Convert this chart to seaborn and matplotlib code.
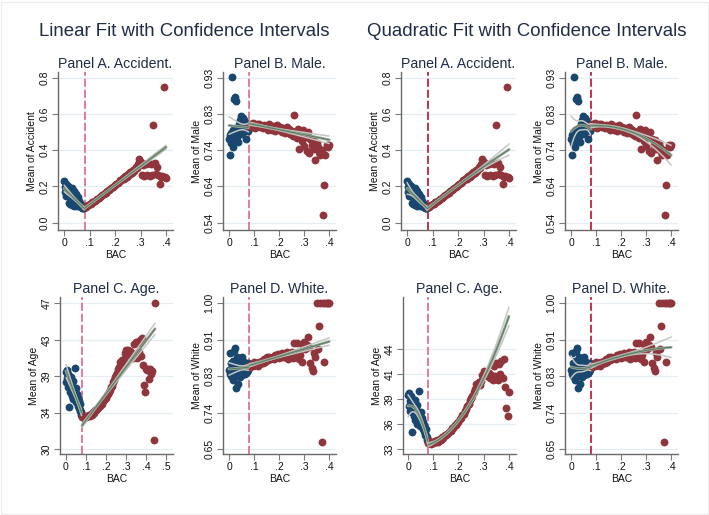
import numpy as np
import matplotlib
matplotlib.use("Agg")
import matplotlib.pyplot as plt
import seaborn as sns
from matplotlib.patches import Rectangle

sns.set_theme(style="ticks")
plt.rcParams['font.family'] = ['Liberation Sans', 'DejaVu Sans']

# binned BAC values (below / above the .08 cutoff)
bac_blue = [0.000, 0.002, 0.004, 0.006, 0.008, 0.010, 0.012, 0.014, 0.016, 0.018,
            0.020, 0.022, 0.024, 0.026, 0.028, 0.030, 0.032, 0.034, 0.036, 0.038,
            0.040, 0.042, 0.044, 0.046, 0.048, 0.050, 0.052, 0.054, 0.056, 0.058,
            0.060, 0.062, 0.064, 0.066, 0.068, 0.070, 0.072, 0.074, 0.076, 0.078]
bac_red = [0.080, 0.085, 0.090, 0.095, 0.100, 0.105, 0.110, 0.115, 0.120, 0.125,
           0.130, 0.135, 0.140, 0.145, 0.150, 0.155, 0.160, 0.165, 0.170, 0.175,
           0.180, 0.185, 0.190, 0.195, 0.200, 0.205, 0.210, 0.215, 0.220, 0.225,
           0.230, 0.235, 0.240, 0.245, 0.250, 0.255, 0.260, 0.265, 0.270, 0.275,
           0.280, 0.285, 0.290, 0.295, 0.300, 0.305, 0.310, 0.315, 0.320, 0.325,
           0.330, 0.335, 0.340, 0.345, 0.350, 0.355, 0.360, 0.365, 0.370, 0.375,
           0.380, 0.385, 0.390, 0.395, 0.400]

# approximate number of stops in each bin (used as fit weights)
n_blue = [20, 22, 24, 26, 28, 30, 33, 36, 39, 42,
          46, 50, 54, 58, 63, 68, 74, 80, 87, 94,
          102, 110, 119, 128, 138, 149, 160, 172, 185, 199,
          214, 230, 247, 265, 284, 304, 325, 347, 370, 395]
n_red = [520, 540, 560, 580, 600, 610, 620, 630, 640, 650,
         660, 665, 670, 670, 665, 660, 650, 640, 625, 610,
         590, 570, 545, 520, 495, 465, 435, 405, 375, 345,
         315, 285, 255, 230, 205, 180, 160, 140, 120, 105,
         90, 78, 66, 56, 48, 40, 34, 28, 24, 20,
         17, 14, 12, 10, 8, 7, 6, 5, 4, 3,
         3, 2, 2, 2, 1]

acc_blue = [0.230, 0.170, 0.195, 0.150, 0.215, 0.185, 0.175, 0.160, 0.200, 0.110,
            0.150, 0.185, 0.105, 0.165, 0.135, 0.190, 0.100, 0.155, 0.120, 0.175,
            0.095, 0.145, 0.110, 0.160, 0.100, 0.130, 0.095, 0.140, 0.110, 0.120,
            0.090, 0.110, 0.095, 0.100, 0.085, 0.092, 0.082, 0.086, 0.080, 0.083]
acc_red = [0.086, 0.088, 0.093, 0.097, 0.101, 0.105, 0.112, 0.115, 0.121, 0.126,
           0.130, 0.136, 0.141, 0.146, 0.152, 0.157, 0.163, 0.166, 0.174, 0.178,
           0.186, 0.191, 0.196, 0.202, 0.207, 0.212, 0.220, 0.225, 0.238, 0.234,
           0.245, 0.242, 0.256, 0.250, 0.268, 0.262, 0.280, 0.276, 0.290, 0.283,
           0.310, 0.300, 0.325, 0.350, 0.335, 0.262, 0.318, 0.258, 0.322, 0.265,
           0.330, 0.255, 0.325, 0.262, 0.540, 0.330, 0.268, 0.310, 0.262, 0.215,
           0.250, 0.255, 0.750, 0.252, 0.245]

male_blue = [0.765, 0.722, 0.775, 0.755, 0.780, 0.931, 0.770, 0.744, 0.790, 0.765,
             0.872, 0.780, 0.878, 0.770, 0.868, 0.790, 0.770, 0.790, 0.756, 0.800,
             0.805, 0.815, 0.785, 0.826, 0.800, 0.812, 0.778, 0.822, 0.805, 0.790,
             0.815, 0.785, 0.800, 0.765, 0.808, 0.790, 0.802, 0.785, 0.800, 0.795]
male_red = [0.800, 0.805, 0.798, 0.808, 0.802, 0.795, 0.804, 0.799, 0.806, 0.797,
            0.801, 0.794, 0.803, 0.796, 0.800, 0.788, 0.804, 0.795, 0.790, 0.801,
            0.797, 0.785, 0.803, 0.793, 0.788, 0.798, 0.783, 0.795, 0.790, 0.780,
            0.797, 0.786, 0.792, 0.777, 0.785, 0.772, 0.830, 0.775, 0.768, 0.792,
            0.737, 0.778, 0.760, 0.790, 0.745, 0.770, 0.732, 0.783, 0.728, 0.765,
            0.748, 0.762, 0.738, 0.707, 0.753, 0.744, 0.730, 0.722, 0.736, 0.561,
            0.641, 0.722, 0.749, 0.742, 0.748]

age_blue = [39.0, 37.8, 39.2, 38.3, 37.2, 38.8, 38.0, 34.9, 38.5, 37.0,
            38.1, 36.6, 37.6, 38.4, 36.2, 36.9, 37.4, 35.8, 37.9, 36.4,
            37.0, 36.0, 39.4, 36.6, 35.5, 36.2, 37.1, 35.7, 36.4, 35.2,
            36.0, 35.0, 35.6, 34.8, 34.6, 35.2, 34.4, 34.0, 34.3, 33.8]
age_red = [33.7, 33.9, 33.6, 33.8, 33.7, 33.9, 33.8, 34.0, 33.8, 34.1,
           34.0, 34.3, 34.2, 34.5, 34.5, 34.7, 34.8, 35.0, 35.0, 35.3,
           35.3, 35.6, 35.7, 35.9, 36.0, 36.3, 36.4, 36.7, 36.9, 37.2,
           37.4, 37.8, 38.0, 38.4, 38.6, 38.9, 39.3, 39.6, 40.2, 40.0,
           40.4, 40.1, 40.5, 41.2, 41.6, 41.3, 41.5, 41.0, 41.4, 40.8,
           41.2, 40.6, 42.2, 41.0, 42.5, 40.6, 42.4, 41.3, 42.7, 40.8,
           42.9, 39.8, 37.5, 36.6, 39.3]
# age bins beyond .40 (only in the linear panel)
age_extra_bac = [0.405, 0.410, 0.415, 0.420, 0.425, 0.430, 0.440, 0.445]
age_extra = [39.2, 39.3, 38.2, 39.3, 38.8, 39.1, 31.0, 47.0]
n_extra = [1, 1, 1, 1, 1, 1, 1, 1]

white_blue = [0.840, 0.880, 0.830, 0.856, 0.825, 0.848, 0.835, 0.816, 0.862, 0.830,
              0.885, 0.842, 0.892, 0.826, 0.796, 0.870, 0.838, 0.806, 0.860, 0.834,
              0.850, 0.822, 0.866, 0.838, 0.845, 0.872, 0.828, 0.852, 0.836, 0.858,
              0.842, 0.830, 0.855, 0.838, 0.848, 0.835, 0.852, 0.840, 0.856, 0.846]
white_red = [0.850, 0.846, 0.855, 0.849, 0.858, 0.852, 0.856, 0.850, 0.860, 0.855,
             0.862, 0.857, 0.865, 0.859, 0.870, 0.864, 0.872, 0.866, 0.868, 0.872,
             0.866, 0.876, 0.870, 0.878, 0.868, 0.875, 0.880, 0.870, 0.878, 0.872,
             0.882, 0.866, 0.880, 0.874, 0.884, 0.868, 0.904, 0.872, 0.904, 0.880,
             0.866, 0.875, 0.860, 0.898, 0.908, 0.890, 0.900, 0.920, 0.894, 0.856,
             0.845, 0.838, 0.880, 0.870, 1.000, 0.890, 0.945, 1.000, 0.668, 1.000,
             0.860, 1.000, 1.000, 1.000, 1.000]

# axis labels
acc_ticks = [0.0, 0.2, 0.4, 0.6, 0.8]
acc_labels = ["0.0", "0.2", "0.4", "0.6", "0.8"]
male_ticks = [0.54, 0.6375, 0.735, 0.8325, 0.93]
male_labels = ["0.54", "0.64", "0.74", "0.83", "0.93"]
white_ticks = [0.65, 0.7375, 0.825, 0.9125, 1.00]
white_labels = ["0.65", "0.74", "0.83", "0.91", "1.00"]
age_ticks_lin = [30, 34.25, 38.5, 42.75, 47]
age_labels_lin = ["30", "34", "39", "43", "47"]
age_ticks_quad = [33, 35.75, 38.5, 41.25, 44]
age_labels_quad = ["33", "36", "39", "41", "44"]
bac_ticks4 = [0, 0.1, 0.2, 0.3, 0.4]
bac_labels4 = ["0", ".1", ".2", ".3", ".4"]
bac_ticks5 = [0, 0.1, 0.2, 0.3, 0.4, 0.5]
bac_labels5 = ["0", ".1", ".2", ".3", ".4", ".5"]

BLUE = "#1a476f"
RED = "#90353b"
PINK = "#e2728f"
CRIMSON = "#bb2444"
TXT = "#1f2b47"
W, H = 709, 515


def fit_ci(x, y, w, order, n=120):
    # weighted polynomial fit with 95% band for the mean
    x = np.asarray(x, float)
    y = np.asarray(y, float)
    w = np.asarray(w, float)
    w = w / w.mean()
    X = np.vander(x, order + 1)
    XtW = X.T * w
    xtx_inv = np.linalg.inv(XtW @ X)
    beta = xtx_inv @ (XtW @ y)
    resid = y - X @ beta
    s2 = (w * resid ** 2).sum() / (len(x) - order - 1)
    cov = s2 * xtx_inv
    g = np.linspace(x.min(), x.max(), n)
    G = np.vander(g, order + 1)
    pred = G @ beta
    se = np.sqrt(np.einsum('ij,jk,ik->i', G, cov, G))
    return g, pred, pred - 1.96 * se, pred + 1.96 * se


def panel(box, title, ylabel, xb, yb, wb, xr, yr, wr, order, yticks, ylabels, ylim,
          xticks, xlabels, xlim, cut_color):
    l, r, t, b = box
    ax = fig.add_axes([l / W, 1 - b / H, (r - l) / W, (b - t) / H])
    ax.axvline(0.08, color=cut_color, lw=1.3, dashes=(4.5, 1.6), zorder=1.5)
    sns.scatterplot(x=xb, y=yb, color=BLUE, s=32, linewidth=0, ax=ax, zorder=3)
    sns.scatterplot(x=xr, y=yr, color=RED, s=32, linewidth=0, ax=ax, zorder=3)
    for xs, ys, ws in ((xb, yb, wb), (xr, yr, wr)):
        g, p, lo, hi = fit_ci(xs, ys, ws, order)
        sns.lineplot(x=g, y=lo, color="#c4c7c4", lw=1.1, ax=ax, zorder=4, sort=False)
        sns.lineplot(x=g, y=hi, color="#c4c7c4", lw=1.1, ax=ax, zorder=4, sort=False)
        sns.lineplot(x=g, y=p, color="#9aa89a", lw=2.0, ax=ax, zorder=5, sort=False)
        sns.lineplot(x=g, y=p, color="#557a5c", lw=0.7, ax=ax, zorder=6, sort=False)
    ax.set_xlim(xlim)
    ax.set_ylim(ylim)
    ax.set_yticks(yticks)
    ax.set_yticklabels(ylabels, rotation=90, va="center")
    ax.set_xticks(xticks)
    ax.set_xticklabels(xlabels)
    ax.grid(axis="y", color="#e5edf0", lw=0.9)
    ax.set_axisbelow(True)
    sns.despine(ax=ax)
    for s in ("left", "bottom"):
        ax.spines[s].set_color("#6a6a6a")
        ax.spines[s].set_linewidth(1.0)
    ax.tick_params(length=4, width=0.8, color="#7a7a7a", labelsize=7.5,
                   labelcolor="#111111", pad=2)
    ax.set_xlabel("BAC", fontsize=7.5, color="#111111", labelpad=1)
    ax.set_ylabel(ylabel, fontsize=7.5, color="#111111", labelpad=2)
    ax.set_title(title, fontsize=10.2, color=TXT, pad=3)
    return ax


fig = plt.figure(figsize=(W / 100, H / 100), dpi=100)
fig.patches.append(Rectangle((0.002, 0.002), 0.996, 0.995, transform=fig.transFigure,
                             fill=False, edgecolor="#ececec", lw=0.8))

age_bac_all = bac_red + age_extra_bac
age_red_all = age_red + age_extra
n_red_all = n_red + n_extra
xl4 = (-0.024, 0.427)

# linear fits
panel((58, 173, 72, 230), "Panel A. Accident.", "Mean of Accident", bac_blue, acc_blue, n_blue,
      bac_red, acc_red, n_red, 1, acc_ticks, acc_labels, (-0.040, 0.831),
      bac_ticks4, bac_labels4, xl4, PINK)
panel((223, 336, 72, 230), "Panel B. Male.", "Mean of Male", bac_blue, male_blue, n_blue,
      bac_red, male_red, n_red, 1, male_ticks, male_labels, (0.520, 0.945),
      bac_ticks4, bac_labels4, xl4, PINK)
panel((60, 173, 297, 454), "Panel C. Age.", "Mean of Age", bac_blue, age_blue, n_blue,
      age_bac_all, age_red_all, n_red_all, 1, age_ticks_lin, age_labels_lin, (29.42, 47.74),
      bac_ticks5, bac_labels5, (-0.03, 0.535), PINK)
panel((223, 336, 297, 454), "Panel D. White.", "Mean of White", bac_blue, white_blue, n_blue,
      bac_red, white_red, n_red, 1, white_ticks, white_labels, (0.638, 1.015),
      bac_ticks4, bac_labels4, xl4, PINK)

# quadratic fits
panel((401, 516, 72, 230), "Panel A. Accident.", "Mean of Accident", bac_blue, acc_blue, n_blue,
      bac_red, acc_red, n_red, 2, acc_ticks, acc_labels, (-0.040, 0.831),
      bac_ticks4, bac_labels4, xl4, CRIMSON)
panel((565, 678, 72, 230), "Panel B. Male.", "Mean of Male", bac_blue, male_blue, n_blue,
      bac_red, male_red, n_red, 2, male_ticks, male_labels, (0.520, 0.945),
      bac_ticks4, bac_labels4, xl4, CRIMSON)
panel((403, 516, 297, 454), "Panel C. Age.", "Mean of Age", bac_blue, age_blue, n_blue,
      bac_red, age_red, n_red, 2, age_ticks_quad, age_labels_quad, (32.45, 49.77),
      bac_ticks4, bac_labels4, (-0.02, 0.428), PINK)
panel((565, 678, 297, 454), "Panel D. White.", "Mean of White", bac_blue, white_blue, n_blue,
      bac_red, white_red, n_red, 2, white_ticks, white_labels, (0.638, 1.015),
      bac_ticks4, bac_labels4, xl4, CRIMSON)

fig.text(184 / W, 1 - 31 / H, "Linear Fit with Confidence Intervals", ha="center",
         va="center", fontsize=13.4, color=TXT)
fig.text(527 / W, 1 - 31 / H, "Quadratic Fit with Confidence Intervals", ha="center",
         va="center", fontsize=13.4, color=TXT)

fig.savefig("out.png", dpi=100)
